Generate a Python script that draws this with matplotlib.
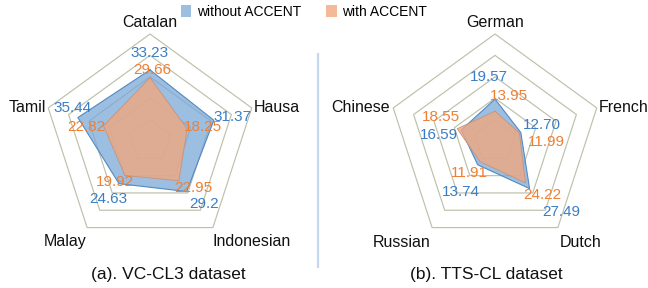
import numpy as np
import matplotlib
matplotlib.use("Agg")
import matplotlib.pyplot as plt
from matplotlib.patches import Patch

plt.rcParams['font.family'] = ['Liberation Sans', 'DejaVu Sans']

# ---------------- data ----------------
vc_langs = ["Catalan", "Hausa", "Indonesian", "Malay", "Tamil"]
vc_without = [33.23, 31.37, 29.2, 24.63, 35.44]
vc_with = [29.66, 18.25, 22.95, 19.92, 22.82]
vc_without_lbl = ["33.23", "31.37", "29.2", "24.63", "35.44"]
vc_with_lbl = ["29.66", "18.25", "22.95", "19.92", "22.82"]

tts_langs = ["German", "French", "Dutch", "Russian", "Chinese"]
tts_without = [19.57, 12.70, 27.49, 13.74, 16.59]
tts_with = [13.95, 11.99, 24.22, 11.91, 18.55]
tts_without_lbl = ["19.57", "12.70", "27.49", "13.74", "16.59"]
tts_with_lbl = ["13.95", "11.99", "24.22", "11.91", "18.55"]

ring_levels = [10, 20, 30, 40, 50]
rmax = 50
captions = ["(a). VC-CL3 dataset", "(b). TTS-CL dataset"]
legend_labels = ["without ACCENT", "with ACCENT"]

BLUE_FILL = "#7aa8d8"
BLUE_EDGE = "#5489c2"
ORANGE_FILL = "#f0a880"
ORANGE_EDGE = "#c9927a"
BLUE_TXT = "#3b7dc4"
ORANGE_TXT = "#ef7f33"
RING = "#bcc1aa"

W, H = 648, 288
fig = plt.figure(figsize=(W / 100, H / 100), dpi=100)
s = rmax / 107.0  # value units per pixel


def xy(vals):
    n = len(vals)
    ang = np.pi / 2 - 2 * np.pi * np.arange(n) / n
    v = np.asarray(vals, float)
    return v * np.cos(ang), v * np.sin(ang)


def radar(ax_left_px, ax_width_px, cx_px, cy_px, langs, without, with_, wl, ol,
          lab_pos, wpos, opos, caption, cap_x):
    ax = fig.add_axes([ax_left_px / W, 0, ax_width_px / W, 1])
    off = cx_px - ax_left_px
    ax.set_xlim(-off * s, (ax_width_px - off) * s)
    ax.set_ylim(-(H - cy_px) * s, cy_px * s)
    ax.axis("off")
    n = len(langs)
    for lv in ring_levels:
        x, y = xy([lv] * n)
        ax.fill(np.append(x, x[0]), np.append(y, y[0]), facecolor="none",
                edgecolor=RING, lw=0.85, zorder=1)
    x, y = xy(without)
    ax.fill(x, y, facecolor=BLUE_FILL, alpha=0.75, edgecolor="none", zorder=2)
    ax.plot(np.append(x, x[0]), np.append(y, y[0]), color=BLUE_EDGE, lw=0.8, zorder=3)
    x, y = xy(with_)
    ax.fill(x, y, facecolor=ORANGE_FILL, alpha=0.8, edgecolor="none", zorder=4)
    ax.plot(np.append(x, x[0]), np.append(y, y[0]), color=ORANGE_EDGE, lw=0.6, zorder=5)
    for i in range(n):
        px, py = lab_pos[i]
        ax.text((px - cx_px) * s, (cy_px - py) * s, langs[i], ha="center", va="center",
                fontsize=11.5, color="#111111", zorder=6)
        px, py = wpos[i]
        ax.text((px - cx_px) * s, (cy_px - py) * s, wl[i], ha="center", va="center",
                fontsize=11, color=BLUE_TXT, zorder=6)
        px, py = opos[i]
        ax.text((px - cx_px) * s, (cy_px - py) * s, ol[i], ha="center", va="center",
                fontsize=11, color=ORANGE_TXT, zorder=6)
    ax.text((cap_x - cx_px) * s, (cy_px - 275) * s, caption, ha="center", va="center",
            fontsize=12.5, color="#111111")
    return ax


radar(0, 318, 150, 141, vc_langs, vc_without, vc_with, vc_without_lbl, vc_with_lbl,
      lab_pos=[(150, 23), (277, 108), (252, 242), (65, 242), (27, 108)],
      wpos=[(150, 53), (232, 117), (204, 204), (108, 199), (73, 108)],
      opos=[(152, 70), (203, 127), (193, 188), (115, 182), (86, 127)],
      caption=captions[0], cap_x=168)

radar(318, 330, 495, 141, tts_langs, tts_without, tts_with, tts_without_lbl, tts_with_lbl,
      lab_pos=[(495, 23), (624, 108), (581, 243), (402, 243), (361, 108)],
      wpos=[(489, 77), (542, 125), (561, 212), (461, 192), (439, 135)],
      opos=[(509, 96), (546, 142), (542, 195), (469, 173), (441, 117)],
      caption=captions[1], cap_x=486)

# divider line
fig.add_artist(plt.Line2D([318 / W, 318 / W], [1 - 54 / H, 1 - 267 / H],
                          color="#c5d8ee", lw=1.6))

handles = [Patch(facecolor=BLUE_FILL, alpha=0.75, edgecolor="none"),
           Patch(facecolor=ORANGE_FILL, alpha=0.8, edgecolor="none")]
fig.legend(handles, legend_labels, loc="center", bbox_to_anchor=(304 / W, 1 - 12 / H),
           ncol=2, frameon=False, fontsize=10, handlelength=0.75, handleheight=0.9,
           handletextpad=0.4, columnspacing=1.8)

fig.savefig("out.png", dpi=100)
